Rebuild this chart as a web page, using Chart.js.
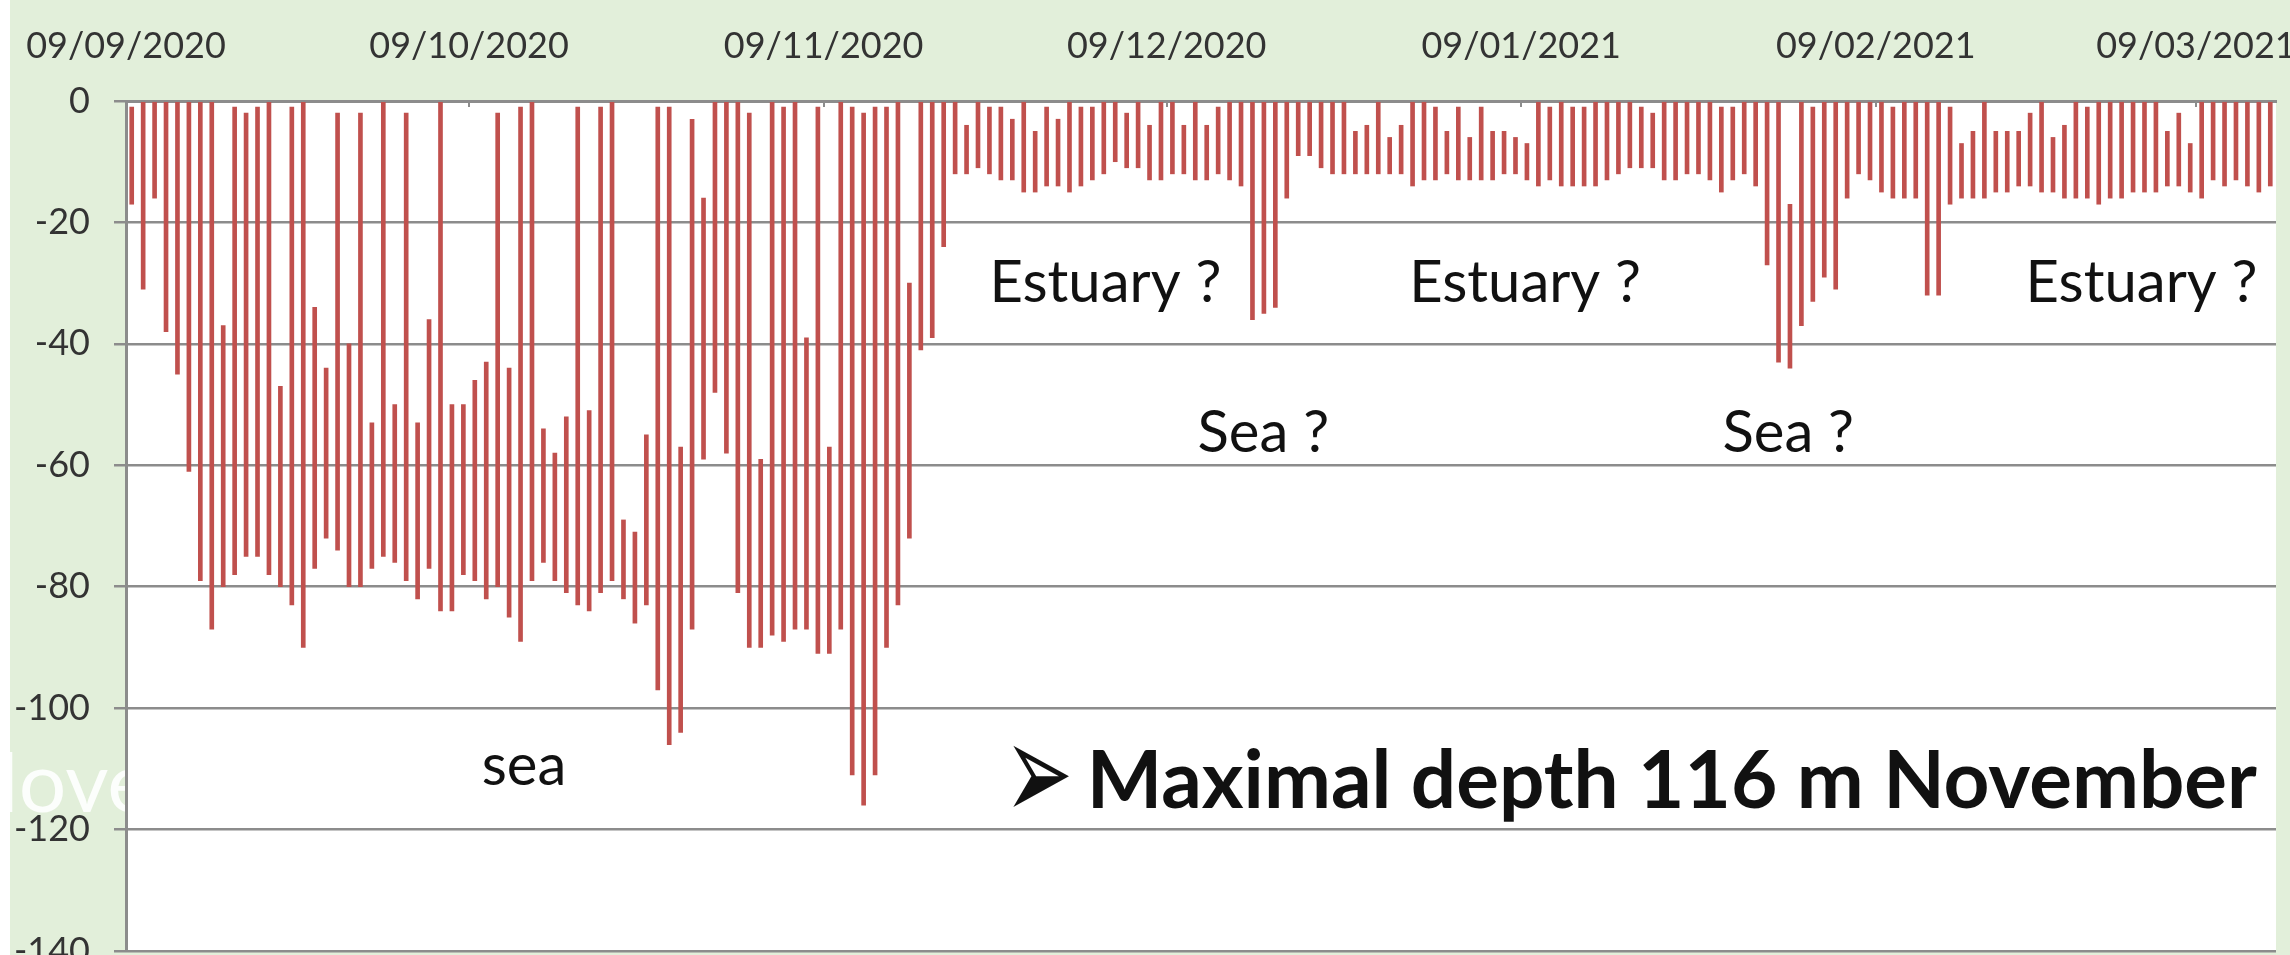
<!DOCTYPE html>
<html>
<head>
<meta charset="utf-8">
<script src="https://cdn.jsdelivr.net/npm/chart.js@4.4.1/dist/chart.umd.min.js"></script>
<style>
  html, body { margin: 0; padding: 0; background: #fff; }
  canvas { display: block; }
</style>
</head>
<body>
<canvas id="chart" width="2290" height="955"></canvas>
<script>

// top axis: month labels, at the day index where each one starts
const tickDays = [0, 30, 61, 91, 122, 153, 181];
const tickLabels = ["09/09/2020", "09/10/2020", "09/11/2020", "09/12/2020", "09/01/2021", "09/02/2021", "09/03/2021"];

// one bar per day starting 09/09/2020 : shallowest and deepest depth of the day (m)
const minDepth = [
    -1, 0, 0, 0, 0, 0, 0, 0, -37, -1,
    -2, -1, 0, -47, -1, 0, -34, -44, -2, -40,
    -2, -53, 0, -50, -2, -53, -36, 0, -50, -50,
    -46, -43, -2, -44, -1, 0, -54, -58, -52, -1,
    -51, -1, 0, -69, -71, -55, -1, -1, -57, -3,
    -16, 0, 0, 0, -2, -59, 0, -1, 0, -39,
    -1, -57, 0, -1, -2, -1, -1, 0, -30, 0,
    0, 0, 0, -4, 0, -1, -1, -3, 0, -5,
    -1, -3, 0, -1, -1, 0, 0, -2, 0, -4,
    0, 0, -4, 0, -4, -1, 0, 0, 0, 0,
    0, 0, 0, 0, 0, 0, 0, -5, -4, 0,
    -6, -4, 0, 0, -1, -5, -1, -6, -1, -5,
    -5, -6, -7, 0, -1, 0, -1, -1, 0, 0,
    0, 0, -1, -2, 0, 0, 0, 0, 0, -1,
    -1, 0, 0, 0, 0, -17, 0, -1, 0, 0,
    0, 0, 0, 0, -1, 0, 0, 0, 0, -1,
    -7, -5, 0, -5, -5, -5, -2, 0, -6, -4,
    0, -1, 0, 0, 0, 0, 0, 0, -5, -2,
    -7, 0, 0, 0, 0, 0, 0, 0
];
const maxDepth = [
    -17, -31, -16, -38, -45, -61, -79, -87, -80, -78,
    -75, -75, -78, -80, -83, -90, -77, -72, -74, -80,
    -80, -77, -75, -76, -79, -82, -77, -84, -84, -78,
    -79, -82, -80, -85, -89, -79, -76, -79, -81, -83,
    -84, -81, -79, -82, -86, -83, -97, -106, -104, -87,
    -59, -48, -58, -81, -90, -90, -88, -89, -87, -87,
    -91, -91, -87, -111, -116, -111, -90, -83, -72, -41,
    -39, -24, -12, -12, -11, -12, -13, -13, -15, -15,
    -14, -14, -15, -14, -13, -12, -10, -11, -11, -13,
    -13, -12, -12, -13, -13, -12, -13, -14, -36, -35,
    -34, -16, -9, -9, -11, -12, -12, -12, -12, -12,
    -12, -12, -14, -13, -13, -12, -13, -13, -13, -13,
    -12, -12, -13, -14, -13, -14, -14, -14, -14, -13,
    -12, -11, -11, -11, -13, -13, -12, -12, -13, -15,
    -13, -12, -14, -27, -43, -44, -37, -33, -29, -31,
    -16, -12, -13, -15, -16, -16, -16, -32, -32, -17,
    -16, -16, -16, -15, -15, -14, -14, -15, -15, -16,
    -16, -16, -17, -16, -16, -15, -15, -15, -14, -14,
    -15, -16, -13, -14, -13, -14, -15, -14
];

const totalDays = 188;

// text written on the chart (x in days, y = baseline depth)
const notes = [
    { text: "Estuary ?", day: 75.5, depth: -33.1, font: "58px Lato" },
    { text: "Estuary ?", day: 112.2, depth: -33.1, font: "58px Lato" },
    { text: "Estuary ?", day: 166.1, depth: -33.1, font: "58px Lato" },
    { text: "Sea ?", day: 93.7, depth: -57.8, font: "58px Lato" },
    { text: "Sea ?", day: 139.6, depth: -57.8, font: "58px Lato" },
    { text: "sea", day: 31.1, depth: -112.7, font: "58px Lato" },
    { text: "\u27A2", day: 76.8, depth: -118.5, font: "82px 'DejaVu Sans'", stretch: 1.7 },
    { text: "Maximal depth 116 m November", day: 84.0, depth: -116.5, font: "bold 80px Lato" }
];

const bars = minDepth.map((top, i) => ({ x: i + 0.5, y: [top, maxDepth[i]] }));

const gridGrey = "#8C8C8C";
const tickFont = { family: "Lato", size: 36 };

// green slide background, white plot area, faint slide title behind it
const backdrop = {
    id: "backdrop",
    beforeDraw(chart) {
        const { ctx, chartArea: a } = chart;
        ctx.save();
        ctx.fillStyle = "#fff";
        ctx.fillRect(0, 0, chart.width, chart.height);
        ctx.fillStyle = "#E2EFDA";
        ctx.fillRect(10, 0, chart.width - 10, chart.height);
        ctx.font = "84px Lato";
        ctx.fillStyle = "rgba(255,255,255,0.9)";
        ctx.textBaseline = "alphabetic";
        ctx.fillText("Nove", 20 - ctx.measureText("N").width, 812);
        ctx.fillStyle = "#fff";
        ctx.fillRect(a.left, a.top, a.right - a.left, a.bottom - a.top);
        ctx.restore();
    }
};

const labels = {
    id: "labels",
    afterDatasetsDraw(chart) {
        const { ctx, scales } = chart;
        ctx.fillStyle = "#111";
        ctx.textAlign = "left";
        ctx.textBaseline = "alphabetic";
        notes.forEach(n => {
            ctx.save();
            ctx.font = n.font;
            ctx.translate(scales.x.getPixelForValue(n.day), scales.y.getPixelForValue(n.depth));
            ctx.scale(1, n.stretch || 1);   // the arrow glyph is flatter than the slide's one
            ctx.fillText(n.text, 0, 0);
            ctx.restore();
        });
    }
};

const ctx = document.getElementById("chart").getContext("2d");

const chart = new Chart(ctx, {
    type: "bar",
    data: {
        datasets: [{
            data: bars,
            backgroundColor: "#C0504D",
            barThickness: 4,
            borderWidth: 0
        }]
    },
    options: {
        responsive: false,
        animation: false,
        devicePixelRatio: 1,
        layout: { padding: { left: 0, right: 14, top: 0, bottom: 4 } },
        plugins: {
            legend: { display: false },
            tooltip: { enabled: false }
        },
        scales: {
            x: {
                type: "linear",
                position: "top",
                min: 0,
                max: totalDays,
                bounds: "data",
                offset: false,
                afterBuildTicks: scale => {
                    scale.ticks = tickDays.map(d => ({ value: d }));
                },
                afterFit: scale => {
                    scale.height = 101;
                    scale.paddingLeft = 0;
                    scale.paddingRight = 0;
                },
                ticks: {
                    autoSkip: false,
                    maxRotation: 0,
                    minRotation: 0,
                    padding: 39,
                    font: tickFont,
                    color: "#333",
                    callback: (value, index) => tickLabels[index]
                },
                grid: {
                    offset: false,
                    drawOnChartArea: false,
                    tickLength: -6,
                    color: gridGrey,
                    lineWidth: 2
                },
                border: { color: gridGrey, width: 3 }
            },
            y: {
                min: -140,
                max: 0,
                afterFit: scale => {
                    scale.width = 126;
                    scale.paddingTop = 0;
                    scale.paddingBottom = 0;
                },
                ticks: {
                    stepSize: 20,
                    padding: 24,
                    font: tickFont,
                    color: "#333"
                },
                grid: {
                    color: gridGrey,
                    lineWidth: 2.5,
                    tickLength: 12
                },
                border: { color: gridGrey, width: 3 }
            }
        }
    },
    plugins: [backdrop, labels]
});

</script>
</body>
</html>
